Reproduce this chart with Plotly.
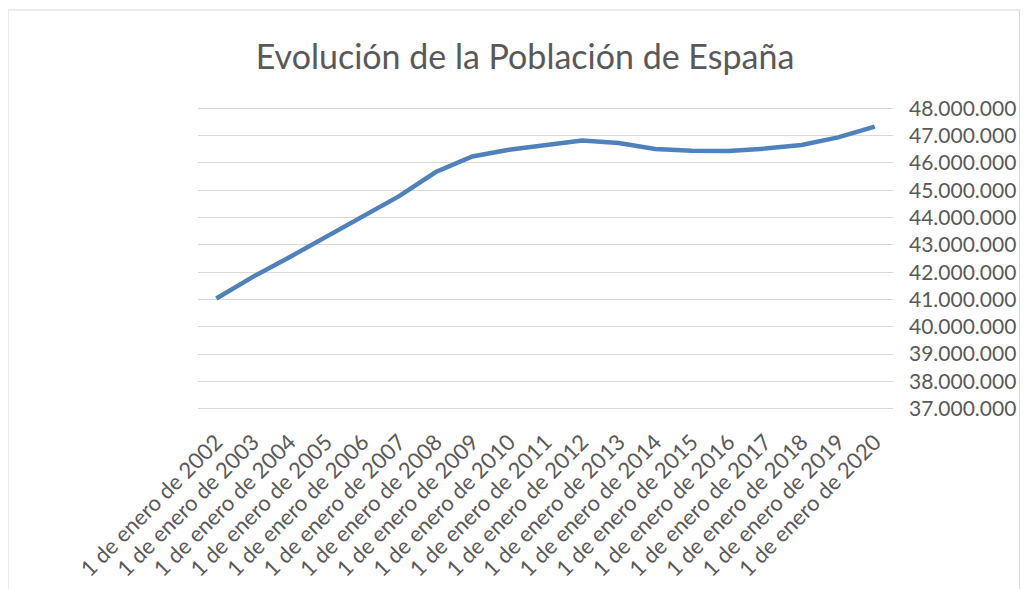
import plotly.graph_objects as go

years = list(range(2002, 2021))
categories = [f"1 de enero de {y}" for y in years]
population = [41035271, 41827836, 42547454, 43296335, 44009969, 44784659,
              45668938, 46239271, 46486621, 46667175, 46818216, 46727890,
              46512199, 46449565, 46440099, 46527039, 46658447, 46937060,
              47332614]
y_ticks = list(range(37000000, 48000001, 1000000))
title_text = "Evolución de la Población de España"

FONT = "Lato"
GREY = "#595959"
OFF = 8  # page body margin

fig = go.Figure()
fig.add_trace(go.Scatter(
    x=categories, y=population, mode="lines",
    line=dict(color="#4F81BD", width=4.5),
    showlegend=False, hoverinfo="x+y",
))

W, H = 1028 - 2 * OFF, 589 - OFF
# target screen coordinates (reference), converted to figure coords
x_left, x_right = 198 - OFF, 893 - OFF
y_top48, y_bot37 = 108.5 - OFF, 409 - OFF
ppm = (y_bot37 - y_top48) / 11.0  # pixels per million
pad_m = 0.05  # extend range slightly so edge gridlines show
y_lo, y_hi = 37000000 - pad_m * 1e6, 48000000 + pad_m * 1e6
T = y_top48 - pad_m * ppm
Bm = H - (y_bot37 + pad_m * ppm)
L, R = x_left, W - x_right
pw, ph = W - L - R, H - T - Bm

def px(x):
    return (x - OFF - L) / pw

def py(y):
    return (H - Bm - (y - OFF)) / ph

fig.update_layout(
    width=W, height=H,
    margin=dict(l=L, r=R, t=T, b=Bm, pad=0, autoexpand=False),
    paper_bgcolor="white", plot_bgcolor="white",
    separators=",.",
    font=dict(family=FONT, color=GREY, size=20),
    title=dict(text=title_text, x=(525 - OFF) / W, xanchor="center",
               y=1 - (57 - OFF) / H, yanchor="middle",
               font=dict(family=FONT, size=34, color=GREY)),
    xaxis=dict(
        type="category", showgrid=False, zeroline=False,
        showline=False, ticks="", tickangle=-45, automargin=False,
        tickfont=dict(family=FONT, size=22, color=GREY),
        ticklabelstandoff=14, range=[-0.5, len(categories) - 0.5],
    ),
    yaxis=dict(
        side="right", range=[y_lo, y_hi], automargin=False,
        tickvals=y_ticks, tickformat=",d",
        showgrid=True, gridcolor="#D9D9D9", gridwidth=1.3,
        zeroline=False, showline=False, ticks="",
        tickfont=dict(family=FONT, size=21, color=GREY),
        ticklabelstandoff=15,
    ),
    shapes=[dict(type="rect", xref="paper", yref="paper",
                 x0=px(8), x1=px(1019.5), y0=py(640), y1=py(10),
                 line=dict(color="#D9D9D9", width=1), layer="below")],
)

fig.write_html("out.html")
